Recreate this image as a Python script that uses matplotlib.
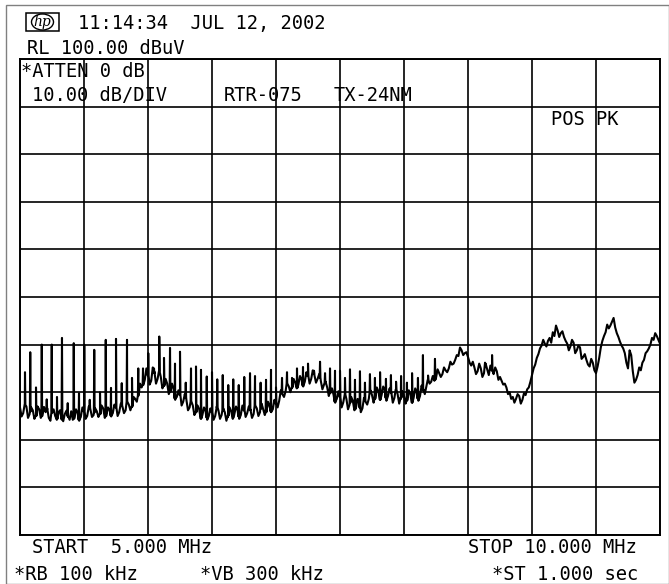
import numpy as np
import matplotlib
matplotlib.use("Agg")
import matplotlib.pyplot as plt
from matplotlib.patches import Rectangle, Ellipse

# canvas size in pixels (dpi 100)
W, H = 669, 584

# sweep / display settings
start_mhz = 5.0
stop_mhz = 10.0
ref_dbuv = 100.0
db_per_div = 10.0

# trace floor, read every 12.5 kHz from 5.000 to 10.000 MHz (dBuV)
floor_dbuv = [
    26.8, 24.9, 25.6, 27.4, 27.0, 24.6, 25.4, 26.8, 26.2, 24.4, 25.0, 27.0, 26.4, 24.6, 25.2, 26.9,  # 5.0
    25.8, 26.6, 24.6, 24.0, 26.0, 26.4, 25.0, 24.2, 25.6, 26.2, 24.4, 23.9, 25.4, 26.1, 24.8, 24.2,  # 5.2
    26.0, 24.2, 24.6, 26.4, 25.6, 24.0, 24.8, 26.8, 26.2, 24.4, 25.0, 27.0, 26.4, 24.8, 25.2, 26.6,  # 5.4
    26.0, 24.8, 25.4, 27.2, 26.6, 24.6, 25.2, 26.8, 26.2, 24.9, 25.6, 27.4, 26.8, 25.0, 25.8, 27.6,  # 5.6
    27.0, 25.6, 26.2, 28.2, 27.4, 26.2, 27.0, 29.0, 28.6, 28.0, 29.4, 31.8, 31.0, 31.6, 32.6, 35.0,  # 5.8
    33.8, 31.6, 32.4, 35.2, 34.0, 31.8, 32.8, 34.4, 33.2, 30.8, 31.4, 32.8, 31.8, 29.6, 30.2, 31.8,  # 6.0
    30.6, 28.4, 29.0, 30.4, 29.4, 27.2, 28.0, 29.6, 28.4, 26.2, 26.8, 28.2, 27.2, 25.2, 25.8, 27.2,  # 6.2
    26.4, 24.4, 25.2, 26.8, 26.0, 24.2, 25.0, 26.6, 25.8, 24.2, 25.0, 27.0, 26.2, 24.4, 25.2, 26.6,  # 6.4
    25.8, 24.0, 24.8, 26.8, 26.0, 24.4, 25.4, 27.0, 26.2, 24.4, 25.2, 27.2, 26.4, 24.8, 25.6, 27.0,  # 6.6
    26.2, 24.6, 25.4, 27.4, 26.6, 25.0, 25.8, 27.6, 26.4, 25.2, 26.0, 28.0, 27.0, 25.8, 26.4, 28.4,  # 6.8
    27.6, 26.8, 28.2, 30.4, 29.6, 29.0, 30.2, 32.0, 31.2, 30.0, 31.0, 32.8, 32.0, 30.8, 31.6, 33.4,  # 7.0
    32.6, 31.2, 32.2, 34.2, 33.4, 31.8, 32.8, 34.6, 33.6, 32.0, 32.8, 33.8, 32.4, 30.6, 31.6, 32.2,  # 7.2
    31.0, 29.2, 30.0, 30.8, 29.4, 27.8, 28.6, 30.2, 29.0, 26.8, 27.8, 29.6, 28.6, 26.4, 27.4, 29.0,  # 7.4
    28.2, 26.2, 26.8, 28.6, 27.6, 25.8, 26.6, 28.8, 28.0, 27.4, 28.6, 30.4, 29.4, 27.8, 28.8, 31.0,  # 7.6
    30.2, 28.4, 29.4, 31.2, 30.4, 28.2, 29.2, 30.8, 29.8, 27.8, 28.8, 30.6, 29.6, 27.6, 28.6, 30.2,  # 7.8
    29.2, 27.6, 28.4, 30.4, 29.6, 27.8, 28.8, 30.8, 29.8, 28.2, 29.2, 31.4, 30.4, 29.6, 31.2, 32.6,  # 8.0
    31.8, 32.2, 33.4, 32.4, 33.0, 34.8, 34.0, 33.2, 33.8, 35.2, 34.6, 34.2, 35.0, 36.4, 35.8, 36.0,  # 8.2
    36.8, 37.8, 37.6, 39.4, 38.8, 37.8, 38.2, 38.4, 37.4, 36.2, 35.6, 36.4, 35.2, 33.8, 34.4, 36.0,  # 8.4
    35.0, 33.2, 34.0, 36.0, 34.8, 33.6, 35.6, 34.6, 33.8, 35.2, 34.4, 32.6, 33.2, 32.4, 31.6, 31.8,  # 8.6
    31.0, 29.6, 30.0, 28.6, 29.0, 27.8, 28.6, 29.6, 29.2, 27.6, 28.4, 29.8, 29.4, 30.6, 31.0, 32.2,  # 8.8
    33.6, 35.0, 35.8, 37.2, 38.0, 39.2, 39.8, 41.0, 40.2, 39.6, 40.8, 41.4, 40.4, 42.6, 41.8, 44.0,  # 9.0
    43.0, 41.6, 42.4, 42.8, 41.6, 40.8, 40.2, 38.8, 39.6, 41.0, 40.4, 38.2, 38.8, 39.8, 39.4, 37.0,  # 9.2
    37.4, 38.0, 36.8, 35.8, 35.4, 37.0, 36.2, 34.6, 34.0, 35.4, 37.2, 39.4, 40.8, 41.8, 42.6, 44.2,  # 9.4
    43.4, 44.0, 44.8, 45.6, 43.6, 42.4, 41.6, 40.6, 39.8, 39.2, 38.2, 36.2, 35.0, 38.8, 37.8, 34.4,  # 9.6
    32.0, 32.6, 33.6, 35.2, 34.6, 36.2, 36.8, 38.2, 38.6, 39.2, 40.0, 41.4, 41.0, 42.4, 41.8, 41.0,  # 9.8
    40.2,                                                                                            # 10.0
]
floor_mhz = np.linspace(start_mhz, stop_mhz, len(floor_dbuv))

# narrow spurs sticking up out of the floor
spike_mhz = [
    5.039, 5.080, 5.125, 5.170, 5.209, 5.248, 5.289, 5.328, 5.373, 5.420,
    5.461, 5.502, 5.545, 5.580, 5.625, 5.670, 5.711, 5.750, 5.795, 5.836,
    5.875, 5.924, 5.961, 6.002, 6.047, 6.088, 6.125, 6.172, 6.211, 6.250,
    6.295, 6.336, 6.375, 6.414, 6.459, 6.500, 6.541, 6.584, 6.627, 6.666,
    6.709, 6.752, 6.797, 6.836, 6.880, 6.922, 6.961, 7.000, 7.047, 7.086,
    7.125, 7.164, 7.211, 7.250, 7.297, 7.344, 7.383, 7.422, 7.461, 7.500,
    7.539, 7.578, 7.617, 7.656, 7.695, 7.734, 7.773, 7.813, 7.859, 7.898,
    7.938, 7.977, 8.023, 8.063, 8.109, 8.148, 8.188, 8.242, 8.633, 8.688,
]
spike_dbuv = [
    34.2, 38.4, 31.0, 40.0, 28.5, 40.0, 29.0, 41.4, 27.7, 40.3,
    29.8, 40.0, 28.4, 38.9, 30.0, 41.0, 30.9, 41.2, 31.9, 41.0,
    33.0, 35.0, 35.0, 38.2, 35.0, 41.7, 37.2, 39.3, 36.0, 38.5,
    32.0, 35.0, 35.4, 34.7, 33.3, 34.2, 32.7, 33.6, 31.5, 32.7,
    31.5, 33.2, 34.0, 33.4, 32.0, 32.6, 34.7, 31.0, 33.0, 34.2,
    33.0, 35.0, 35.3, 36.0, 34.5, 36.4, 34.0, 35.0, 34.5, 34.5,
    33.0, 34.8, 32.6, 34.4, 32.0, 33.8, 33.0, 34.2, 32.8, 33.6,
    32.2, 33.4, 32.0, 34.0, 33.0, 37.8, 33.5, 37.0, 36.2, 37.8,
]

# annotation text
header_time = "11:14:34  JUL 12, 2002"
header_ref = "RL 100.00 dBuV"
atten_text = "*ATTEN 0 dB"
scale_text = "10.00 dB/DIV"
title_left = "RTR-075"
title_right = "TX-24NM"
detector_text = "POS PK"
start_text = "START  5.000 MHz"
stop_text = "STOP 10.000 MHz"
rbw_text = "*RB 100 kHz"
vbw_text = "*VB 300 kHz"
sweep_text = "*ST 1.000 sec"

MONO = "DejaVu Sans Mono"


def fx(x):
    return x / W


def fy(y):
    return 1 - y / H


def label(fig, x, y, s, size=13.5):
    fig.text(fx(x), fy(y), s, fontsize=size, family=MONO,
             ha="left", va="baseline", zorder=5)


# merge the spurs into the floor trace
tr_f = list(floor_mhz)
tr_a = list(floor_dbuv)
for fs, pk in zip(spike_mhz, spike_dbuv):
    base = float(np.interp(fs, floor_mhz, floor_dbuv))
    tr_f += [fs - 0.003, fs, fs + 0.003]
    tr_a += [base, pk, base]
order = np.argsort(tr_f, kind="stable")
tr_f = np.array(tr_f)[order]
tr_a = np.array(tr_a)[order]

fig = plt.figure(figsize=(W / 100, H / 100), dpi=100)
fig.patch.set_facecolor("white")

ax = fig.add_axes([fx(20), fy(535), 640 / W, 476 / H])
ax.set_xlim(start_mhz, stop_mhz)
ax.set_ylim(ref_dbuv - 10 * db_per_div, ref_dbuv)
ax.set_xticks(np.linspace(start_mhz, stop_mhz, 11))
ax.set_yticks(np.linspace(ref_dbuv - 10 * db_per_div, ref_dbuv, 11))
ax.grid(True, color="black", linewidth=1.2)
ax.tick_params(length=0, labelbottom=False, labelleft=False)
for sp in ax.spines.values():
    sp.set_linewidth(1.4)
    sp.set_color("black")
ax.set_axisbelow(True)

ax.plot(tr_f, tr_a, color="black", linewidth=1.5, zorder=3)

# outer frame of the screen dump
fig.add_artist(Rectangle((fx(6), fy(583.5)), (668.5 - 6) / W, (583.5 - 4.5) / H,
                         transform=fig.transFigure, fill=False,
                         edgecolor="#808080", linewidth=1.0))

# hp logo
fig.add_artist(Rectangle((fx(26), fy(31)), 33 / W, 18 / H,
                         transform=fig.transFigure, fill=False,
                         edgecolor="black", linewidth=1.1))
fig.add_artist(Ellipse((fx(42.5), fy(22)), 22 / W, 16 / H,
                       transform=fig.transFigure, fill=False,
                       edgecolor="black", linewidth=1.0))
fig.text(fx(42.5), fy(22), "hp", fontsize=10, style="italic",
         family="DejaVu Serif", ha="center", va="center")

label(fig, 78, 29, header_time)
label(fig, 27, 54, header_ref)
label(fig, 21, 77, atten_text)
label(fig, 32, 101, scale_text)
label(fig, 224, 101, title_left)
label(fig, 334, 101, title_right)
label(fig, 551, 125, detector_text)
label(fig, 32, 553, start_text)
label(fig, 468, 553, stop_text)
label(fig, 14, 580, rbw_text)
label(fig, 200, 580, vbw_text)
label(fig, 492, 580, sweep_text)

fig.savefig("out.png", dpi=100)
